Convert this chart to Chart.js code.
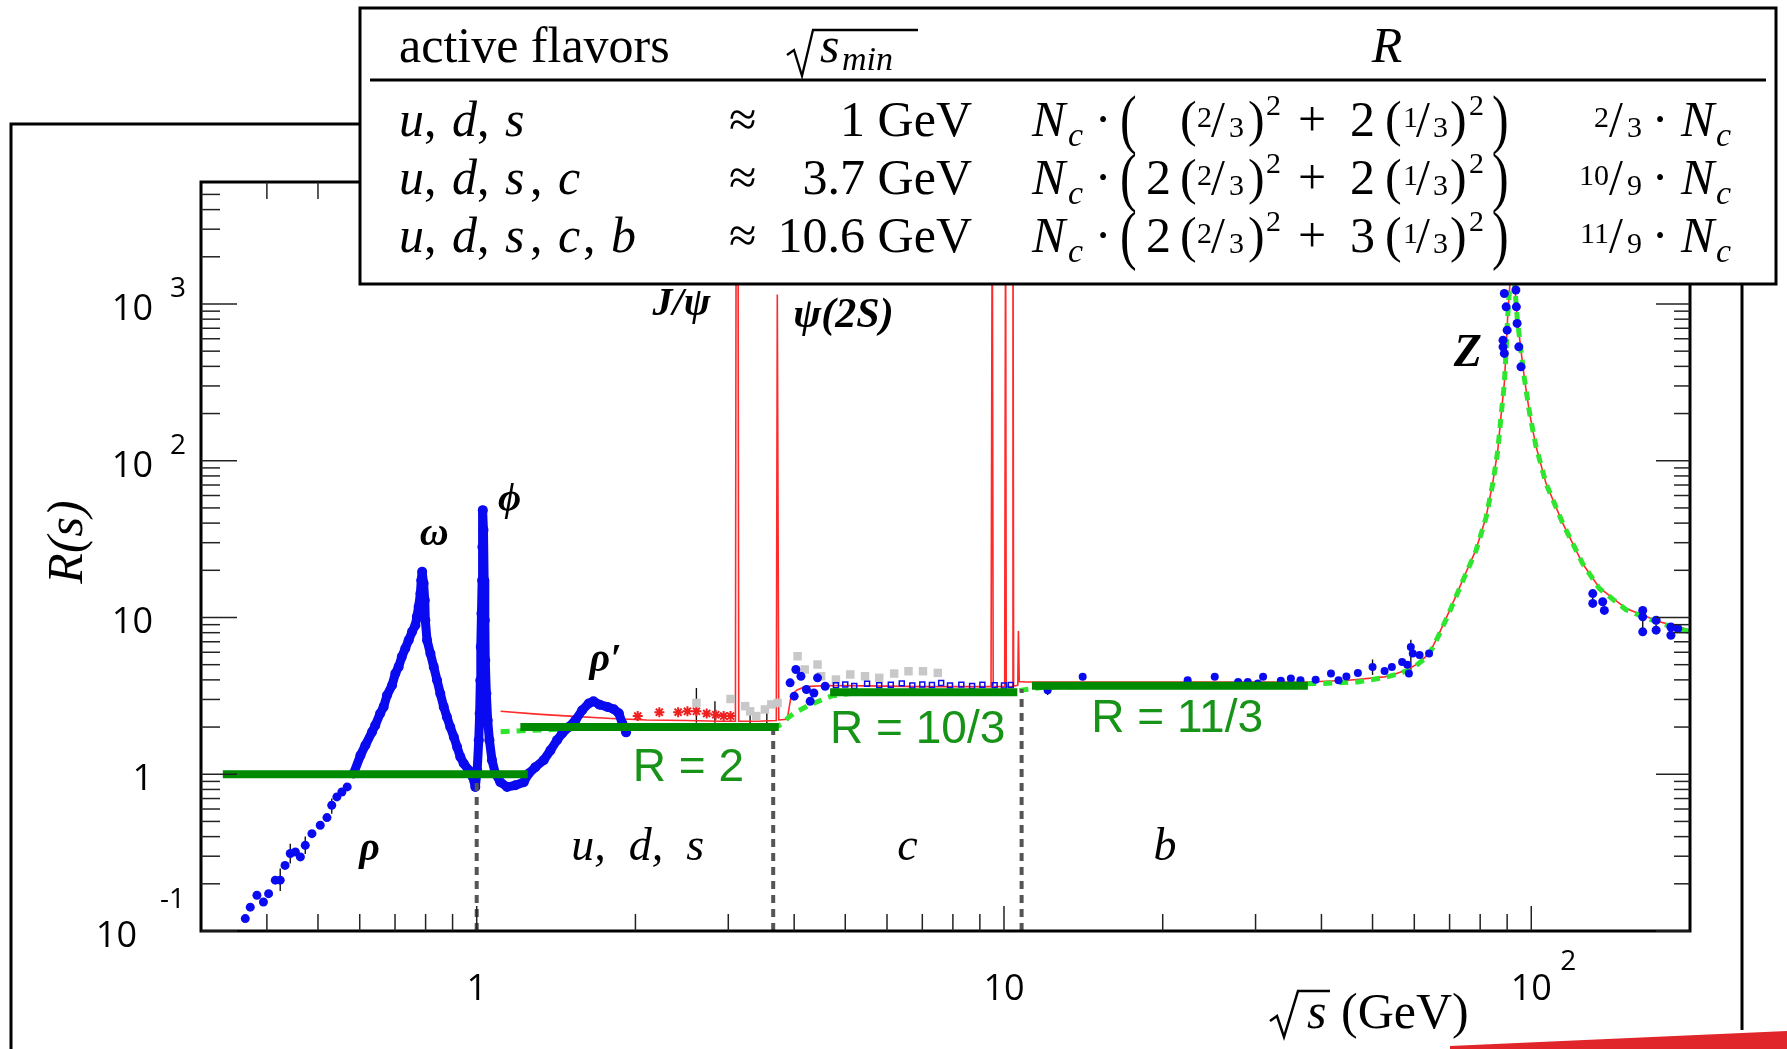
<!DOCTYPE html>
<html>
<head>
<meta charset="utf-8">
<title>R(s)</title>
<script src="https://cdn.jsdelivr.net/npm/chart.js@4.4.1/dist/chart.umd.min.js"></script>
<style>
  html, body { margin: 0; padding: 0; background: #fff; }
  #box { position: relative; width: 1787px; height: 1049px; }
</style>
</head>
<body>
<div id="box"><canvas id="rChart"></canvas></div>
<script>
// ---- data ----
// blue e+e- data, rho tail (separate dots)
const lowX = [0.364,0.372,0.383,0.394,0.403,0.415,0.424,0.433,0.443,0.453,0.463,0.473,0.487,0.505,0.520,0.531,0.543,0.555,0.568];
const lowY = [0.120,0.142,0.169,0.153,0.173,0.211,0.211,0.262,0.312,0.319,0.297,0.352,0.418,0.473,0.529,0.634,0.717,0.771,0.830];
// blue data, omega / phi / rho' band
const hadX = [0.584,0.602,0.615,0.633,0.642,0.656,0.666,0.676,0.691,0.701,0.711,0.721,0.732,0.743,0.754,0.765,0.770,0.776,0.782,0.785,
  0.788,0.793,0.797,0.799,0.805,0.817,0.829,0.841,0.853,0.866,0.878,0.891,0.905,0.918,0.931,0.945,0.966,0.983,0.994,1.002,
  1.009,1.013,1.016,1.018,1.021,1.024,1.025,1.027,1.030,1.033,1.036,1.038,1.043,1.049,1.057,1.069,1.085,1.109,1.142,1.184,
  1.228,1.255,1.292,1.340,1.380,1.420,1.452,1.495,1.539,1.585,1.631,1.665,1.710,1.770,1.820,1.860,1.890,1.920];
const hadY = [1.01,1.32,1.53,1.86,2.05,2.44,2.69,3.19,3.70,4.39,4.84,5.61,6.34,7.17,8.10,8.93,10.1,11.7,14.2,17.3,
  19.6,16.5,12.9,9.6,7.17,5.89,4.84,3.98,3.27,2.69,2.32,2.00,1.73,1.49,1.29,1.17,1.06,0.96,0.83,1.06,
  1.65,2.44,3.98,6.50,10.6,17.3,28.2,48.4,36.1,17.3,9.6,5.34,3.27,2.21,1.65,1.23,1.01,0.89,0.83,0.85,
  0.89,1.01,1.11,1.23,1.42,1.65,1.82,2.00,2.21,2.56,2.83,2.92,2.78,2.69,2.60,2.45,2.10,1.85];
// charm threshold region
const charmX = [3.93,4.00,4.03,4.12,4.22,4.29,4.36,4.43,4.58];
const charmY = [3.83,3.15,4.66,4.22,3.47,2.92,3.30,4.12,3.64];
const scanX = [4.8,5.0,5.2,5.5,5.8,6.1,6.4,6.7,7.0,7.3,7.6,7.9,8.3,8.7,9.1,9.6,10.0,10.3];
const scanY = [3.70,3.74,3.66,3.78,3.70,3.72,3.80,3.68,3.74,3.71,3.82,3.69,3.73,3.66,3.72,3.70,3.68,3.71];
// above the b threshold
const highX = [12.1,14.1,22.3,25.1,27.8,29.0,30.3,31.0,33.5,35.0,36.5,39.0,41.7,43.1,44.6,46.9,50.0,52.7,54.4,56.9,58.2,58.6,59.1,59.6,61.4,64.0];
const highY = [3.44,4.18,3.98,4.18,3.88,3.88,3.79,4.18,3.95,4.08,3.98,4.00,4.39,3.98,4.20,4.43,4.84,4.55,4.84,5.21,5.00,4.39,6.49,5.89,5.77,5.89];
// Z region
const zX = [88.4,88.4,88.9,88.9,89.6,90.0,93.5,93.7,94.0,94.7,95.6,130.8,130.8,136.6,137.6,162.7,162.7,162.7,172.5,172.5,184,184,189.6];
const zY = [588,533,1167,484,959,681,1227,959,752,533,397,14.2,12.3,12.6,11.1,11.1,10.1,8.1,9.6,8.3,8.7,7.7,8.5];
// grey squares and red stars
const grayX = [2.61,3.03,3.23,3.30,3.39,3.52,3.62,3.72,4.06,4.19,4.43,4.50,4.80,5.11,5.45,5.80,6.19,6.59,7.02,7.49];
const grayY = [2.85,3.02,2.72,2.52,2.35,2.59,2.79,2.85,5.66,4.66,5.01,4.22,4.02,4.33,4.22,4.12,4.39,4.54,4.54,4.43];
const starX = [2.02,2.22,2.41,2.51,2.61,2.73,2.84,2.94,3.03];
const starY = [2.35,2.49,2.49,2.52,2.52,2.44,2.40,2.35,2.35];
// error bars
const errX  = [0.424,0.443,0.473,0.531,2.61,2.83,3.30,3.55,12.1,50.0,59.1,130.8,162.7,172.5];
const errLo = [0.18,0.27,0.31,0.56,2.13,2.13,2.05,1.90,3.2,4.3,4.6,11.8,7.8,7.9];
const errHi = [0.25,0.36,0.40,0.70,3.55,2.92,2.55,2.60,3.7,5.4,7.2,15.0,11.6,10.1];
// red curve (with narrow resonances)
const redX = [1.11,1.3,1.5,1.8,2.1,2.5,2.9,3.095,3.105,3.13,3.14,3.4,3.70,3.716,3.724,3.74,3.88,3.95,4.05,4.2,4.6,5.5,7.0,
  9.45,9.50,9.54,10.03,10.07,10.10,10.37,10.40,10.43,10.62,10.65,10.69,11.0,20.0,37.7,45.0,52.7,55.0,58.0,60.5,63.0,65.0,67.0,
  69.5,72.0,75.0,78.5,82.1,84.5,86.4,87.6,88.9,89.6,90.2,92.0,94.0,95.6,97.1,99.3,102,106.6,114.7,125.2,134.6,151.3,175,200];
const redY = [2.52,2.42,2.35,2.27,2.22,2.20,2.18,2.18,6000,6000,2.18,2.18,2.20,1150,1150,2.22,2.24,3.20,3.45,3.62,3.68,3.66,3.62,
  3.62,6000,3.62,3.63,6000,3.63,3.64,6000,3.64,3.70,8.2,3.90,3.88,3.88,3.88,3.98,4.18,4.35,4.62,5.0,5.6,6.5,8.0,
  10.5,13.8,19.0,26.9,43.9,71.9,117,191,313,508,829,2200,829,508,330,200,125,72,40,22,15.5,11.4,9.4,8.3];
// green dashed curve
const grnX = [1.11,1.5,2.0,3.0,3.72,3.80,3.90,4.0,4.3,4.7,5.2,8.0,10.5,10.8,12,20,30,39.7,46.9,52.7,55.0,58.2,60.5,63.0,65.0,67.0,
  69.5,72.0,75.0,78.5,82.1,84.5,86.4,87.6,88.9,89.6,90.2,92.0,94.0,95.6,97.1,99.3,102,106.6,114.7,125.2,134.6,151.3,175,200];
const grnY = [1.87,1.95,1.98,2.0,2.02,2.1,2.3,2.46,2.79,3.15,3.3,3.33,3.35,3.44,3.6,3.68,3.72,3.79,3.88,4.15,4.3,4.58,4.95,5.5,6.4,7.9,
  10.3,13.6,18.7,26.5,43.5,71,116,190,310,505,825,2200,825,505,330,200,125,72,40,22,15.3,11.2,9.2,8.1];
// parton model plateaus and flavour thresholds
const barStart = [0.33, 1.21, 4.68, 11.3];
const barEnd   = [1.25, 3.74, 10.6, 37.7];
const barLevel = [1, 2, 10 / 3, 11 / 3];
const threshold    = [1, 3.65, 10.8];
const thresholdLow = [0.1, 0.1, 0.1];
const thresholdTop = [1.0, 1.9, 3.5];
// axis ticks
const xMajorTicks = [1, 10, 100];
const xMinorTicks = [0.4,0.5,0.6,0.7,0.8,0.9,2,3,4,5,6,7,8,9,20,30,40,50,60,70,80,90];
const yMajorTicks = [0.1, 1, 10, 100, 1000];
const yMinorTicks = [0.2,0.3,0.4,0.5,0.6,0.7,0.8,0.9,2,3,4,5,6,7,8,9,20,30,40,50,60,70,80,90,200,300,400,500,600,700,800,900,2000,3000,4000,5000];
const xTickBase = ['1', '10', '10'];
const xTickExp  = ['', '', '2'];
const yTickBase = ['10', '1', '10', '10', '10'];
const yTickExp  = ['-1', '', '', '2', '3'];
// table contents
const flavorRows = [['u','d','s'], ['u','d','s','c'], ['u','d','s','c','b']];
const sminRows = ['1 GeV', '3.7 GeV', '10.6 GeV'];
const upCoef = ['', '2', '2'];
const downCoef = ['2', '2', '3'];
const rNum = ['2', '10', '11'];
const rDen = ['3', '9', '9'];

const SERIF = '"Liberation Serif", "DejaVu Serif", serif';
const SANS = '"Open Sans", "Noto Sans", sans-serif';
const ARIAL = '"Liberation Sans", Arial, sans-serif';

const annotations = [
  { t: 'ρ', x: 0.626, y: 0.283, font: 'bold italic 40px ' + SERIF },
  { t: 'ω', x: 0.831, y: 28.9, font: 'bold italic 40px ' + SERIF },
  { t: 'ϕ', x: 1.154, y: 48.4, font: 'bold italic 40px ' + SERIF },
  { t: 'ρ′', x: 1.755, y: 4.54, font: 'bold italic 40px ' + SERIF },
  { t: 'J/ψ', x: 2.445, y: 849, font: 'bold italic 40px ' + SERIF },
  { t: 'ψ(2S)', x: 4.96, y: 712, font: 'bold italic 42px ' + SERIF },
  { t: 'Z', x: 75.8, y: 402, font: 'bold italic 46px ' + SERIF },
  { t: 'u,  d,  s', x: 2.02, y: 0.283, font: 'italic 46px ' + SERIF },
  { t: 'c', x: 6.56, y: 0.283, font: 'italic 46px ' + SERIF },
  { t: 'b', x: 20.2, y: 0.283, font: 'italic 46px ' + SERIF },
  { t: 'R = 2', x: 2.52, y: 0.902, font: '46px ' + ARIAL, color: '#179317' },
  { t: 'R = 10/3', x: 6.86, y: 1.58, font: '46px ' + ARIAL, color: '#179317' },
  { t: 'R = 11/3', x: 21.3, y: 1.85, font: '46px ' + ARIAL, color: '#179317' }
];

const toPts = (xs, ys) => xs.map((v, i) => ({ x: v, y: ys[i] }));
const segments = (xa, xb, ya, yb) => {
  const out = [];
  xa.forEach((v, i) => { out.push({ x: v, y: ya[i] }, { x: xb[i], y: yb[i] }, { x: xb[i], y: null }); });
  return out;
};

function put(ctx, s, x, y, font, align, color) {
  ctx.font = font;
  ctx.textAlign = align || 'left';
  ctx.fillStyle = color || '#000';
  ctx.fillText(s, x, y);
}
function path(ctx, pts) {
  ctx.beginPath();
  pts.forEach((p, i) => i ? ctx.lineTo(p[0], p[1]) : ctx.moveTo(p[0], p[1]));
  ctx.stroke();
}
// tall thin bracket for the table
function bigParen(ctx, s, x, y) {
  ctx.save();
  ctx.translate(x, y);
  ctx.scale(1, 1.3);
  put(ctx, s, 0, 0, '50px ' + SERIF);
  ctx.restore();
}

const decor = {
  id: 'decor',
  beforeDatasetsDraw(chart) {
    const { ctx, scales: { x, y } } = chart;
    ctx.save();
    ctx.strokeStyle = '#111';
    ctx.lineWidth = 1.4;
    errX.forEach((v, i) => {
      const px = x.getPixelForValue(v);
      path(ctx, [[px, y.getPixelForValue(errLo[i])], [px, y.getPixelForValue(errHi[i])]]);
    });
    ctx.restore();
  },
  afterDatasetsDraw(chart) {
    const { ctx, chartArea: a, scales: { x, y } } = chart;
    ctx.save();
    ctx.textBaseline = 'alphabetic';

    // plot frame and ticks
    ctx.strokeStyle = '#000';
    ctx.lineWidth = 3;
    ctx.strokeRect(a.left, a.top, a.right - a.left, a.bottom - a.top);
    ctx.lineWidth = 1.5;
    ctx.strokeStyle = '#222';
    xMinorTicks.forEach(v => {
      const p = x.getPixelForValue(v);
      path(ctx, [[p, a.bottom], [p, a.bottom - 17]]);
      path(ctx, [[p, a.top], [p, a.top + 17]]);
    });
    xMajorTicks.forEach(v => {
      const p = x.getPixelForValue(v);
      path(ctx, [[p, a.bottom], [p, a.bottom - 25]]);
      path(ctx, [[p, a.top], [p, a.top + 25]]);
    });
    yMinorTicks.forEach(v => {
      const p = y.getPixelForValue(v);
      path(ctx, [[a.left, p], [a.left + 19, p]]);
      path(ctx, [[a.right, p], [a.right - 16, p]]);
    });
    yMajorTicks.forEach(v => {
      const p = y.getPixelForValue(v);
      path(ctx, [[a.left, p], [a.left + 36, p]]);
      path(ctx, [[a.right, p], [a.right - 34, p]]);
    });

    // tick labels
    yMajorTicks.forEach((v, i) => {
      const p = y.getPixelForValue(v);
      if (yTickExp[i].startsWith('-')) {
        put(ctx, yTickBase[i], a.left - 64, p + 16, '36px ' + SANS, 'right');
        put(ctx, yTickExp[i], a.left - 41, p - 23, '28px ' + SANS, 'left');
      } else {
        put(ctx, yTickBase[i], a.left - 48, p + 16, '36px ' + SANS, 'right');
        if (yTickExp[i]) put(ctx, yTickExp[i], a.left - 31, p - 7, '28px ' + SANS, 'left');
      }
    });
    xMajorTicks.forEach((v, i) => {
      const p = x.getPixelForValue(v);
      put(ctx, xTickBase[i], p, a.bottom + 69, '36px ' + SANS, 'center');
      if (xTickExp[i]) put(ctx, xTickExp[i], p + 29, a.bottom + 39, '28px ' + SANS, 'left');
    });

    // axis titles
    ctx.save();
    ctx.translate(82, 542);
    ctx.rotate(-Math.PI / 2);
    put(ctx, 'R(s)', 0, 0, 'italic 50px ' + SERIF, 'center');
    ctx.restore();
    ctx.strokeStyle = '#000';
    ctx.lineWidth = 2.5;
    path(ctx, [[1270, 1021], [1277, 1016], [1284, 1037], [1298, 991], [1330, 991]]);
    put(ctx, 's', 1307, 1028, 'italic 50px ' + SERIF);
    put(ctx, '(GeV)', 1341, 1028, '50px ' + SERIF);

    // annotations
    annotations.forEach(l => {
      put(ctx, l.t, x.getPixelForValue(l.x), y.getPixelForValue(l.y), l.font, 'center', l.color);
    });

    // outer frame
    ctx.strokeStyle = '#000';
    ctx.lineWidth = 3;
    path(ctx, [[11, 1049], [11, 124], [365, 124]]);
    path(ctx, [[1742, 280], [1742, 1030]]);

    // red strip bottom right
    ctx.fillStyle = '#e1262b';
    ctx.beginPath();
    ctx.moveTo(1450, 1049); ctx.lineTo(1450, 1046); ctx.lineTo(1787, 1031); ctx.lineTo(1787, 1049);
    ctx.closePath();
    ctx.fill();

    // table
    const T = (size, style) => (style ? style + ' ' : '') + size + 'px ' + SERIF;
    ctx.fillStyle = '#fff';
    ctx.fillRect(360, 8, 1416, 276);
    ctx.strokeStyle = '#000';
    ctx.lineWidth = 3;
    ctx.strokeRect(360, 8, 1416, 276);
    path(ctx, [[370, 80], [1766, 80]]);
    put(ctx, 'active flavors', 399, 62, T(50));
    ctx.lineWidth = 2.3;
    path(ctx, [[787, 55], [794, 50], [802, 76], [813, 30], [918, 30]]);
    put(ctx, 's', 820, 62, T(50, 'italic'));
    put(ctx, 'min', 842, 70, T(34, 'italic'));
    put(ctx, 'R', 1387, 62, T(50, 'italic'), 'center');

    const rowBase = [136, 194, 252];
    rowBase.forEach((b, r) => {
      flavorRows[r].forEach((f, k) => {
        const fx = 399 + k * 53;
        put(ctx, f, fx, b, T(50, 'italic'));
        if (k < flavorRows[r].length - 1) put(ctx, ',', fx + 25, b, T(50));
      });
      put(ctx, '≈', 729, b, T(50));
      put(ctx, sminRows[r], 972, b, T(50), 'right');
      // N_c · ( a (2/3)^2 + b (1/3)^2 )
      put(ctx, 'N', 1032, b, T(50, 'italic'));
      put(ctx, 'c', 1068, b + 10, T(34, 'italic'));
      put(ctx, '·', 1103, b, T(50), 'center');
      bigParen(ctx, '(', 1120, b + 5);
      if (upCoef[r]) put(ctx, upCoef[r], 1146, b, T(50));
      put(ctx, '(', 1180, b, T(50));
      put(ctx, '2', 1197, b - 9, T(30));
      put(ctx, '/', 1211, b, T(50));
      put(ctx, '3', 1229, b + 1, T(30));
      put(ctx, ')', 1248, b, T(50));
      put(ctx, '2', 1266, b - 21, T(30));
      put(ctx, '+', 1312, b, T(50), 'center');
      put(ctx, downCoef[r], 1350, b, T(50));
      put(ctx, '(', 1385, b, T(50));
      put(ctx, '1', 1403, b - 9, T(30));
      put(ctx, '/', 1416, b, T(50));
      put(ctx, '3', 1433, b + 1, T(30));
      put(ctx, ')', 1450, b, T(50));
      put(ctx, '2', 1469, b - 21, T(30));
      bigParen(ctx, ')', 1492, b + 5);
      // a/b · N_c
      put(ctx, rNum[r], 1609, b - 9, T(30), 'right');
      put(ctx, '/', 1609, b, T(50));
      put(ctx, rDen[r], 1627, b + 1, T(30));
      put(ctx, '·', 1660, b, T(50), 'center');
      put(ctx, 'N', 1681, b, T(50, 'italic'));
      put(ctx, 'c', 1716, b + 10, T(34, 'italic'));
    });
    ctx.restore();
  }
};

const BLUE = '#0a0af0';
new Chart(document.getElementById('rChart'), {
  type: 'scatter',
  data: {
    datasets: [
      { label: 'R plateaus', data: segments(barStart, barEnd, barLevel, barLevel), showLine: true,
        borderColor: '#008a00', borderWidth: 8, pointRadius: 0, order: 0 },
      { label: 'thresholds', data: segments(threshold, threshold, thresholdLow, thresholdTop), showLine: true,
        borderColor: '#555555', borderWidth: 4, borderDash: [8, 6], pointRadius: 0, order: 1 },
      { label: 'data low', data: toPts(lowX, lowY), backgroundColor: BLUE, borderWidth: 0, pointRadius: 4.5, order: 2 },
      { label: 'data hadrons', data: toPts(hadX, hadY), showLine: true, borderColor: BLUE, borderWidth: 9,
        borderJoinStyle: 'round', borderCapStyle: 'round', backgroundColor: BLUE, pointBorderWidth: 0, pointRadius: 5, order: 2 },
      { label: 'data charm', data: toPts(charmX, charmY), backgroundColor: BLUE, borderWidth: 0, pointRadius: 4.5, order: 2 },
      { label: 'data scan', data: toPts(scanX, scanY), pointStyle: 'rect', backgroundColor: 'rgba(0,0,0,0)',
        borderColor: BLUE, borderWidth: 1.5, pointRadius: 3.5, order: 2 },
      { label: 'data high', data: toPts(highX, highY), backgroundColor: BLUE, borderWidth: 0, pointRadius: 4, order: 2 },
      { label: 'data Z', data: toPts(zX, zY), backgroundColor: BLUE, borderWidth: 0, pointRadius: 4.5, order: 2 },
      { label: 'grey', data: toPts(grayX, grayY), pointStyle: 'rect', backgroundColor: '#c8c8c8', borderWidth: 0, pointRadius: 6, order: 3 },
      { label: 'stars', data: toPts(starX, starY), pointStyle: 'star', borderColor: '#ee2020', borderWidth: 2, pointRadius: 5, order: 3 },
      { label: 'parton model', data: toPts(grnX, grnY), showLine: true, borderColor: '#2ee62e', borderWidth: 5,
        borderDash: [9, 7], pointRadius: 0, order: 4 },
      { label: 'theory', data: toPts(redX, redY), showLine: true, borderColor: '#ff2a2a', borderWidth: 1.6,
        pointRadius: 0, order: 5 }
    ]
  },
  options: {
    responsive: true,
    maintainAspectRatio: false,
    animation: false,
    events: [],
    layout: { padding: { left: 201, top: 182, right: 97, bottom: 118 } },
    plugins: { legend: { display: false }, tooltip: { enabled: false } },
    scales: {
      x: { type: 'logarithmic', min: 0.3, max: 200, display: false },
      y: { type: 'logarithmic', min: 0.1, max: 6000, display: false }
    }
  },
  plugins: [decor]
});
</script>
</body>
</html>
